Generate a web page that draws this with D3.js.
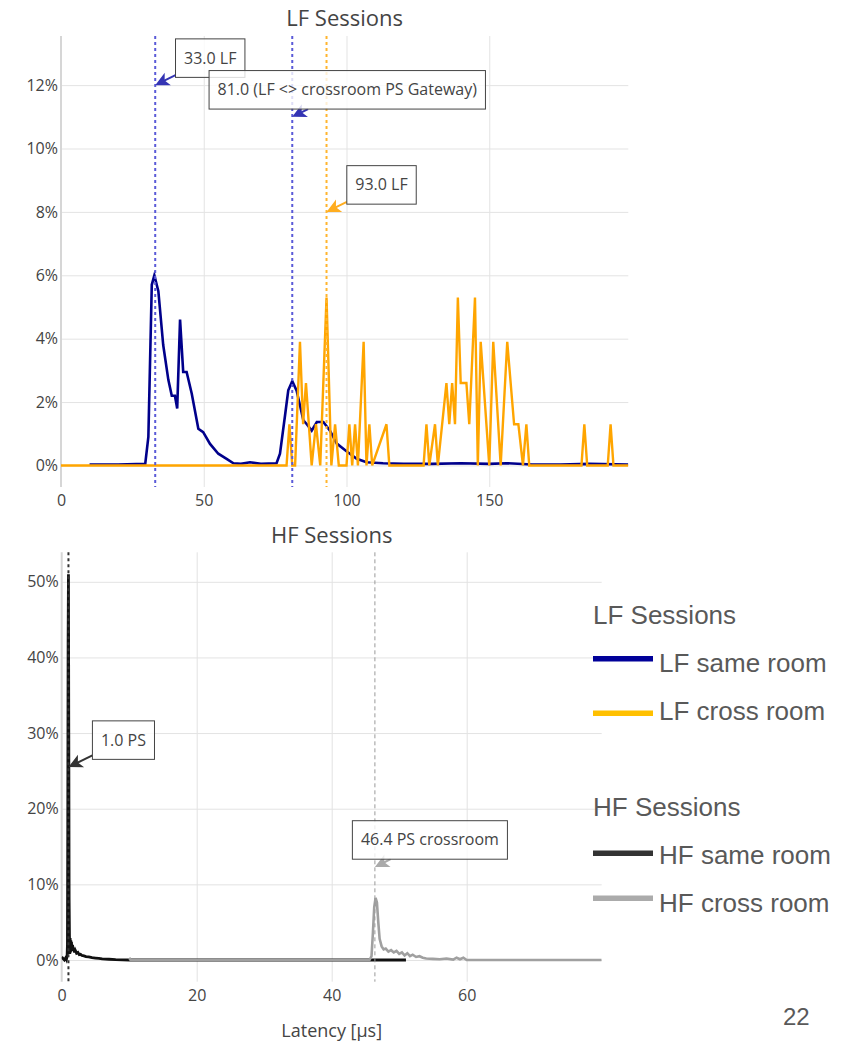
<!DOCTYPE html>
<html>
<head>
<meta charset="utf-8">
<script src="https://cdn.jsdelivr.net/npm/d3@7"></script>
<style>
html, body { margin: 0; padding: 0; background: #fff; }
svg { display: block; }
</style>
</head>
<body>
<svg id="chart" width="861" height="1041"></svg>
<script>
// ---- data ----
const lfTicksX = [0, 50, 100, 150];
const lfTicksY = [0, 2, 4, 6, 8, 10, 12];
const hfTicksX = [0, 20, 40, 60];
const hfTicksY = [0, 10, 20, 30, 40, 50];

// [latency, percent]
const lfSameRoom = [
  [10, 0.03], [20, 0.03], [29.5, 0.05], [30.6, 0.9], [31.8, 5.7], [32.7, 6.0], [34.1, 5.5],
  [35.8, 3.8], [37.6, 2.7], [38.8, 2.2], [39.9, 2.2], [40.7, 1.8], [41.7, 4.6], [42.8, 2.95],
  [44.0, 2.95], [45.8, 2.26], [48.1, 1.16], [49.8, 1.05], [52.2, 0.68], [55.1, 0.37], [58, 0.21],
  [60.4, 0.07], [63, 0.05], [66.2, 0.1], [70, 0.05], [75.5, 0.07], [76.7, 0.37], [78.5, 1.6],
  [79.6, 2.37], [81, 2.66], [82.5, 2.37], [84.9, 1.42], [86.1, 1.3], [87.8, 1.1], [89.6, 1.37],
  [91.9, 1.37], [94.2, 1.1], [96.6, 0.69], [100, 0.45], [103.6, 0.21], [107, 0.1], [112.8, 0.07],
  [120, 0.05], [130, 0.05], [140, 0.07], [150, 0.05], [156, 0.07], [165, 0.03], [175, 0.03],
  [185, 0.05], [198.7, 0.03]
];

const lfCrossRoom = [
  [0, 0], [79, 0], [80, 1.3], [81, 0], [82, 0], [83.7, 3.9], [84.8, 1.3], [85.8, 2.6], [87.8, 0],
  [89.3, 1.3], [90.8, 0], [93, 5.3], [94.7, 0], [96, 1.3], [97.3, 0], [100, 0], [101, 1.3],
  [102, 0], [103, 1.3], [104, 0], [106, 3.9], [107, 0], [108, 1.3], [109, 0], [114, 1.3],
  [115, 0], [127, 0], [128, 1.3], [129, 0], [131, 1.3], [132, 0], [135, 2.6], [136, 1.3],
  [137, 2.6], [138, 1.3], [139, 5.3], [140, 2.6], [142, 2.6], [143, 1.3], [145, 5.3], [146, 0],
  [147, 3.9], [150, 0], [151.4, 3.9], [154, 0], [156.3, 3.9], [158.7, 1.3], [160.2, 1.3],
  [161.8, 0], [163, 1.3], [164, 0], [182.3, 0], [183.3, 1.3], [184.3, 0], [191.5, 0], [192.5, 1.3],
  [193.5, 0], [198.7, 0]
];

const hfSameRoom = [
  [0, 0.4], [0.2, 0.2], [0.4, 0.0], [0.6, 0.3], [0.7, 0.1], [0.8, 0.5], [0.85, 2], [0.9, 18],
  [0.95, 42], [1.0, 51], [1.05, 30], [1.1, 8], [1.15, 3.2], [1.2, 0.8], [1.25, 2.9], [1.3, 1.0],
  [1.35, 2.6], [1.4, 1.2], [1.45, 2.4], [1.5, 1.3], [1.6, 2.0], [1.7, 1.2], [1.8, 1.6], [1.9, 1.0],
  [2.0, 1.3], [2.2, 0.9], [2.4, 1.0], [2.6, 0.7], [2.8, 0.75], [3.0, 0.6], [3.3, 0.55], [3.6, 0.45],
  [4.0, 0.4], [4.5, 0.3], [5.0, 0.25], [5.5, 0.2], [6.0, 0.15], [7.0, 0.1], [8.0, 0.05], [9.0, 0.02],
  [10.0, 0], [46, 0], [51, 0]
];

const hfCrossRoom = [
  [10, 0.3], [10.2, 0], [45.6, 0], [45.9, 0.5], [46.1, 3.5], [46.3, 7.0], [46.5, 8.2], [46.7, 7.6],
  [46.9, 5.0], [47.1, 2.8], [47.4, 1.8], [47.7, 1.4], [48.0, 1.5], [48.4, 1.1], [48.8, 1.3],
  [49.2, 1.0], [49.6, 1.2], [50.0, 0.8], [50.4, 1.0], [50.8, 0.6], [51.2, 0.9], [51.6, 0.5],
  [52.0, 0.7], [52.5, 0.4], [53.0, 0.5], [53.5, 0.3], [54.0, 0.2], [55.0, 0.15], [56.0, 0.1],
  [57.0, 0.2], [58.0, 0.05], [58.5, 0.3], [59.0, 0.1], [59.5, 0.3], [60.0, 0], [80, 0]
];

const lfNoteX = [33, 81, 93];
const lfNoteY = [12, 11, 8];
const lfNoteText = ["33.0 LF", "81.0 (LF <> crossroom PS Gateway)", "93.0 LF"];
const hfNoteX = [1.0, 46.4];
const hfNoteY = [25.5, 12.3];
const hfNoteText = ["1.0 PS", "46.4 PS crossroom"];

const legendGroups = ["LF Sessions", "HF Sessions"];
const legendLabels = ["LF same room", "LF cross room", "HF same room", "HF cross room"];
const pageNumber = "22";

// ---- drawing ----
const svg = d3.select("#chart");
const FONT = "'Open Sans', sans-serif";
const TEXT = "#444";

function drawPanel(p) {
  const x = d3.scaleLinear().domain(p.xDomain).range([p.left, p.right]);
  const y = d3.scaleLinear().domain(p.yDomain).range([p.bottom, p.top]);
  const g = svg.append("g");
  const clipId = "clip-" + p.id;
  g.append("clipPath").attr("id", clipId)
    .append("rect")
    .attr("x", p.left).attr("y", p.top)
    .attr("width", p.right - p.left).attr("height", p.bottom - p.top);

  //grid
  g.append("g")
    .attr("transform", `translate(0,${p.bottom})`)
    .call(d3.axisBottom(x).tickValues(p.xTicks.filter(d => d !== 0)).tickSize(-(p.bottom - p.top)).tickFormat(""))
    .call(s => s.select(".domain").remove())
    .selectAll("line").attr("stroke", "#e3e3e3").attr("stroke-width", 1);
  g.append("g")
    .attr("transform", `translate(${p.left},0)`)
    .call(d3.axisLeft(y).tickValues(p.yTicks).tickSize(-(p.right - p.left)).tickFormat(""))
    .call(s => s.select(".domain").remove())
    .selectAll("line").attr("stroke", "#e3e3e3").attr("stroke-width", 1);
  //x zeroline
  g.append("line")
    .attr("x1", x(0)).attr("x2", x(0))
    .attr("y1", p.top).attr("y2", p.bottom)
    .attr("stroke", "#d6d6d6").attr("stroke-width", 2);

  //tick labels
  g.append("g")
    .attr("transform", `translate(0,${p.bottom})`)
    .call(d3.axisBottom(x).tickValues(p.xTicks).tickSize(0).tickPadding(8))
    .call(s => s.select(".domain").remove())
    .attr("font-family", FONT).attr("font-size", 16)
    .selectAll("text").attr("fill", TEXT);
  g.append("g")
    .attr("transform", `translate(${p.left},0)`)
    .call(d3.axisLeft(y).tickValues(p.yTicks).tickSize(0).tickPadding(3).tickFormat(d => d + "%"))
    .call(s => s.select(".domain").remove())
    .attr("font-family", FONT).attr("font-size", 16)
    .selectAll("text").attr("fill", TEXT);

  //title
  g.append("text")
    .attr("x", (p.left + p.right) / 2).attr("y", p.titleY)
    .attr("text-anchor", "middle")
    .attr("font-family", FONT).attr("font-size", 22).attr("fill", TEXT)
    .text(p.title);

  //series
  const line = d3.line().x(d => x(d[0])).y(d => y(d[1]));
  const plot = g.append("g").attr("clip-path", `url(#${clipId})`);
  p.series.forEach(s => {
    plot.append("path")
      .datum(s.data)
      .attr("fill", "none")
      .attr("stroke", s.color)
      .attr("stroke-width", s.width)
      .attr("d", line);
  });

  //dotted marker lines
  p.notes.forEach(n => {
    g.append("line")
      .attr("x1", x(n.x)).attr("x2", x(n.x))
      .attr("y1", p.top).attr("y2", p.bottom)
      .attr("stroke", n.lineColor)
      .attr("stroke-width", n.lineWidth)
      .attr("stroke-dasharray", n.dash);
  });

  //annotations
  p.notes.forEach(n => {
    const tx = x(n.x), ty = y(n.y);
    const cx = tx + 55, cy = ty - 27;
    const ng = g.append("g");
    const label = ng.append("text")
      .attr("font-family", FONT).attr("font-size", 16).attr("fill", TEXT)
      .attr("text-anchor", "middle")
      .attr("x", cx).attr("y", cy + 5.5)
      .text(n.text);
    const w = label.node().getComputedTextLength() + 17;
    const h = 38.5;
    //arrow from box edge to tip
    const dx = tx - cx, dy = ty - cy;
    const t = Math.min((w / 2) / Math.abs(dx), (h / 2) / Math.abs(dy));
    const sx = cx + dx * t, sy = cy + dy * t;
    const len = Math.hypot(tx - sx, ty - sy);
    const ux = (tx - sx) / len, uy = (ty - sy) / len;
    const L = 14, W = 7;
    ng.insert("line", "text")
      .attr("x1", sx).attr("y1", sy)
      .attr("x2", tx - ux * L * 0.6).attr("y2", ty - uy * L * 0.6)
      .attr("stroke", n.arrowColor).attr("stroke-width", 2);
    ng.insert("path", "text")
      .attr("d", `M${tx},${ty}L${tx - ux * L - uy * W},${ty - uy * L + ux * W}` +
        `L${tx - ux * L * 0.75},${ty - uy * L * 0.75}L${tx - ux * L + uy * W},${ty - uy * L - ux * W}Z`)
      .attr("fill", n.arrowColor);
    ng.insert("rect", "text")
      .attr("x", cx - w / 2).attr("y", cy - h / 2)
      .attr("width", w).attr("height", h)
      .attr("fill", "#fff").attr("fill-opacity", 0.8)
      .attr("stroke", "#444").attr("stroke-width", 1);
  });

  if (p.xTitle) {
    g.append("text")
      .attr("x", (p.left + p.right) / 2).attr("y", p.xTitleY)
      .attr("text-anchor", "middle")
      .attr("font-family", FONT).attr("font-size", 18).attr("fill", TEXT)
      .text(p.xTitle);
  }
}

const lfNoteStyle = [
  { lineColor: "#5a5ad8", arrowColor: "#3434b4", lineWidth: 2, dash: "3,3" },
  { lineColor: "#5a5ad8", arrowColor: "#3434b4", lineWidth: 2, dash: "3,3" },
  { lineColor: "#ffb52e", arrowColor: "#ffad1f", lineWidth: 2, dash: "3,3" }
];
const hfNoteStyle = [
  { lineColor: "#333", arrowColor: "#333", lineWidth: 2, dash: "3,3" },
  { lineColor: "#999", arrowColor: "#aaa", lineWidth: 1, dash: "4,3" }
];

drawPanel({
  id: "lf", title: "LF Sessions", titleY: 26,
  left: 61, right: 628.3, top: 36, bottom: 487,
  xDomain: [0, 198.7], yDomain: [-0.68, 13.55],
  xTicks: lfTicksX, yTicks: lfTicksY,
  series: [
    { data: lfSameRoom, color: "#00008b", width: 2.6 },
    { data: lfCrossRoom, color: "#ffa500", width: 2.4 }
  ],
  notes: lfNoteX.map((v, i) => Object.assign({ x: v, y: lfNoteY[i], text: lfNoteText[i] }, lfNoteStyle[i]))
});

drawPanel({
  id: "hf", title: "HF Sessions", titleY: 543.3,
  left: 61.7, right: 601.7, top: 552.3, bottom: 981.7,
  xDomain: [0, 80], yDomain: [-2.87, 53.9],
  xTicks: hfTicksX, yTicks: hfTicksY,
  xTitle: "Latency [µs]", xTitleY: 1037,
  series: [
    { data: hfSameRoom, color: "#111", width: 2.8 },
    { data: hfCrossRoom, color: "#a0a0a0", width: 2.6 }
  ],
  notes: hfNoteX.map((v, i) => Object.assign({ x: v, y: hfNoteY[i], text: hfNoteText[i] }, hfNoteStyle[i]))
});

//legend (slide overlay)
const LEG_FONT = "'Liberation Sans', Arial, sans-serif";
const legendColors = ["#000099", "#ffc000", "#333333", "#ababab"];
const legendHeadY = [624.3, 816];
const legendLineY = [658.7, 713.3, 853.3, 898.3];
const legendTextY = [671.7, 720, 864, 911.7];
const leg = svg.append("g").attr("font-family", LEG_FONT).attr("font-size", 26).attr("fill", "#595959");
legendGroups.forEach((t, i) => {
  leg.append("text").attr("x", 593).attr("y", legendHeadY[i]).text(t);
});
legendLabels.forEach((t, i) => {
  leg.append("line")
    .attr("x1", 593).attr("x2", 653)
    .attr("y1", legendLineY[i]).attr("y2", legendLineY[i])
    .attr("stroke", legendColors[i]).attr("stroke-width", 5.5);
  leg.append("text").attr("x", 659).attr("y", legendTextY[i]).text(t);
});

svg.append("text")
  .attr("x", 783).attr("y", 1025)
  .attr("font-family", LEG_FONT).attr("font-size", 24).attr("fill", "#595959")
  .text(pageNumber);
</script>
</body>
</html>
